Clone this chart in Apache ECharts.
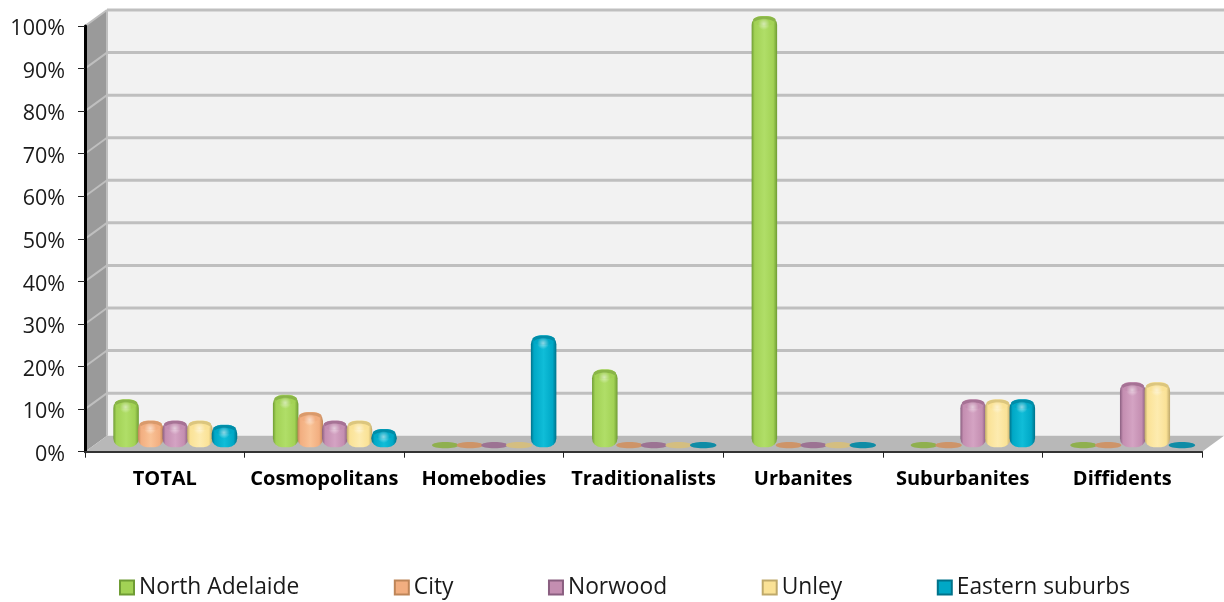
<!DOCTYPE html>
<html><head><meta charset="utf-8">
<style>html,body{margin:0;padding:0;background:#fff}#c{width:1224px;height:602px}</style>
<script src="https://cdn.jsdelivr.net/npm/echarts@6/dist/echarts.min.js"></script>
</head><body><div id="c"></div>
<script>
const categories = ['TOTAL','Cosmopolitans','Homebodies','Traditionalists','Urbanites','Suburbanites','Diffidents'];
const northAdelaide = [10,11,0,17,100,0,0];
const city = [5,7,0,0,0,0,0];
const norwood = [5,5,0,0,0,10,14];
const unley = [5,5,0,0,0,10,14];
const easternSuburbs = [4,3,25,0,0,10,0];
const yTicks = [0,10,20,30,40,50,60,70,80,90,100];
const seriesNames = ['North Adelaide','City','Norwood','Unley','Eastern suburbs'];
const seriesValues = [northAdelaide,city,norwood,unley,easternSuburbs];
const palette = [
 {base:'#A2D255',light:'#B0DE68',dark:'#6F9C34',top:'#8AB548',flat:'#8FB04E'},
 {base:'#F2AE80',light:'#F9C296',dark:'#BE8558',top:'#D99A6C',flat:'#CE9468'},
 {base:'#C48EB1',light:'#D4A3C3',dark:'#8A5F80',top:'#A67295',flat:'#9C7393'},
 {base:'#FAE296',light:'#FDEBAF',dark:'#BFA96A',top:'#DCC67E',flat:'#D4BE80'},
 {base:'#00A8C6',light:'#10BDD8',dark:'#00728A',top:'#008DA8',flat:'#0F8CA6'}
];
const DX=22, DY=-16;      // wall depth
const BX=10.5, BY=-6;     // bar depth in the box
const W=25.5, PITCH=24.6;

function frameItem(params, api){
  const t = api.value(0);
  const xs = api.coord([0,0])[0]-api.size([1,0])[0]/2;
  const xe = xs+api.size([1,0])[0]*categories.length;
  const p = api.coord([0,t]); const y=p[1];
  const y0=api.coord([0,0])[1], y1=api.coord([0,100])[1];
  const kids=[];
  if(t===0){
    kids.push({type:'polygon',shape:{points:[[xs+DX,y0+DY],[xe+DX,y0+DY],[xe+DX,y1+DY],[xs+DX,y1+DY]]},style:{fill:'#F2F2F2'}});
    kids.push({type:'polygon',shape:{points:[[xs,y0],[xs+DX,y0+DY],[xs+DX,y1+DY],[xs,y1]]},style:{fill:'#9A9A9A'}});
    kids.push({type:'polygon',shape:{points:[[xs,y0],[xe,y0],[xe+DX,y0+DY],[xs+DX,y0+DY]]},style:{fill:'#B8B8B8'}});
    kids.push({type:'line',shape:{x1:xs+DX,y1:y1+DY,x2:xs+DX,y2:y0+DY},style:{stroke:'#BFBFBF',lineWidth:2}});
  }
  if(t>0){
    kids.push({type:'line',shape:{x1:xs+DX,y1:y+DY,x2:xe+DX,y2:y+DY},style:{stroke:'#BFBFBF',lineWidth:3}});
    kids.push({type:'line',shape:{x1:xs,y1:y,x2:xs+DX,y2:y+DY},style:{stroke:'#BFBFBF',lineWidth:2}});
  }
  return {type:'group',children:kids};
}
function barItem(si){
  return function(params, api){
    const c=api.value(0), v=api.value(1);
    const pal=palette[si];
    const cx=api.coord([c,0])[0]+(si-2)*PITCH+BX;
    const yb=api.coord([c,0])[1]+BY;
    const yt=api.coord([c,v])[1]+BY;
    const l=cx-W/2;
    if(v===0){
      return {type:'ellipse',shape:{cx:cx,cy:yb-0.5,rx:W/2+0.5,ry:3.1},style:{fill:pal.flat}};
    }
    const ry=4;
    const h=yb-yt+ry+1.5;
    const grad={type:'linear',x:0,y:0,x2:1,y2:0,colorStops:[
      {offset:0,color:pal.dark},{offset:0.12,color:pal.base},{offset:0.5,color:pal.light},{offset:0.85,color:pal.base},{offset:1,color:pal.dark}]};
    const glow={type:'radial',x:0.5,y:0.5,r:0.5,colorStops:[{offset:0,color:'rgba(255,255,255,0.55)'},{offset:1,color:'rgba(255,255,255,0)'}]};
    return {type:'group',children:[
      {type:'rect',shape:{x:l,y:yt-ry,width:W,height:h,r:[9,9,9,9]},style:{fill:grad}},
      {type:'ellipse',shape:{cx:cx,cy:yt-ry+3.8,rx:W/2-1.5,ry:3.5},style:{fill:pal.top}},
      {type:'ellipse',shape:{cx:cx,cy:yt-ry+6.5,rx:W/2-3,ry:3.2},style:{fill:pal.base}},
      {type:'ellipse',shape:{cx:cx-0.5,cy:yt+4,rx:7,ry:6},style:{fill:glow}}
    ]};
  };
}
const series=[{
  name:'frame',type:'custom',silent:true,z:1,coordinateSystem:'cartesian2d',
  data:yTicks.map(t=>[t]),encode:{y:0},renderItem:frameItem,clip:false,animation:false
}];
seriesNames.forEach((n,si)=>{
  series.push({name:n,type:'custom',z:3+si,clip:false,animation:false,
    itemStyle:{color:palette[si].base,borderColor:palette[si].dark,borderWidth:1},
    data:seriesValues[si].map((v,i)=>[i,v]),encode:{x:0,y:1},renderItem:barItem(si)});
});
const chart=echarts.init(document.getElementById('c'),null,{renderer:'canvas'});
chart.setOption({
  animation:false,backgroundColor:'#fff',
  grid:{left:85,right:22,top:26,height:425.7},
  legend:{data:seriesNames,left:114,top:571,icon:'rect',itemWidth:14,itemHeight:14,itemGap:94.5,
    textStyle:{fontFamily:'Open Sans',fontSize:22.8,color:'#1a1a1a'}},
  xAxis:{type:'category',data:categories,boundaryGap:true,
    axisLine:{show:true,lineStyle:{color:'#333',width:2},onZero:false},
    axisTick:{show:true,alignWithLabel:false,length:6,lineStyle:{color:'#222',width:1}},
    axisLabel:{interval:0,margin:18,fontFamily:'Open Sans',fontWeight:'bold',fontSize:20,color:'#000'},
    z:10},
  yAxis:{type:'value',min:0,max:100,interval:10,
    axisLine:{show:true,lineStyle:{color:'#000',width:3}},
    axisTick:{show:true,length:7,lineStyle:{color:'#222',width:1}},
    splitLine:{show:false},
    axisLabel:{formatter:'{t|{value}%}',margin:20,
      rich:{t:{padding:[6,0,0,0],fontFamily:'Open Sans',fontSize:21.5,color:'#1a1a1a'}}},
    z:10},
  series:series
});
</script></body></html>
